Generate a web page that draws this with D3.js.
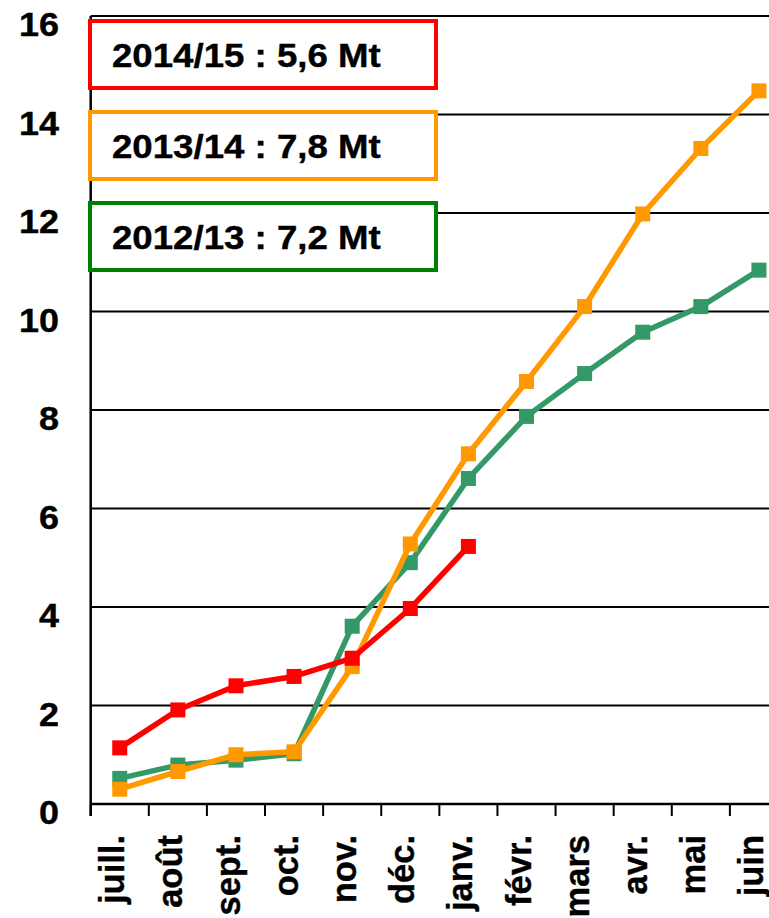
<!DOCTYPE html>
<html><head><meta charset="utf-8">
<script src="https://cdn.jsdelivr.net/npm/d3@7"></script>
<style>
html,body{margin:0;padding:0;background:#fff;overflow:hidden;}
text{font-family:"Liberation Sans",Arial,sans-serif;font-weight:bold;fill:#000;stroke:#000;stroke-width:0.4px;}
</style></head>
<body>
<script>
const months = ["juill.","août","sept.","oct.","nov.","déc.","janv.","févr.","mars","avr.","mai","juin"];
const s1415 = [1.14,1.91,2.40,2.59,2.96,3.97,5.23];
const s1314 = [0.30,0.66,1.00,1.06,2.79,5.28,7.11,8.58,10.10,11.98,13.31,14.48];
const s1213 = [0.52,0.79,0.89,1.02,3.61,4.90,6.61,7.87,8.74,9.58,10.10,10.84];
const yTicks = [0,2,4,6,8,10,12,14,16];
const legendLabels = ["2014/15 : 5,6 Mt","2013/14 : 7,8 Mt","2012/13 : 7,2 Mt"];
const legendColors = ["#ff0000","#ff9900","#008000"];

const W = 769, H = 918;
const svg = d3.select("body").append("svg").attr("width", W).attr("height", H);

const x = d3.scaleBand().domain(months).range([90.7, 788]);
const y = d3.scaleLinear().domain([0,16]).range([804,16]);
const cx = m => x(m) + x.bandwidth()/2;

// gridlines
svg.append("g").selectAll("line").data(yTicks.filter(d=>d>0)).join("line")
  .attr("x1", x.range()[0]).attr("x2", x.range()[1])
  .attr("y1", d=>y(d)).attr("y2", d=>y(d))
  .attr("stroke","#000").attr("stroke-width",2);

// y labels
svg.append("g").selectAll("text").data(yTicks).join("text")
  .attr("transform", d=>`translate(59,${y(d)+20}) scale(1.09,1)`)
  .attr("text-anchor","end").attr("font-size",33).text(d=>d);

// axes lines
svg.append("line").attr("x1",x.range()[0]).attr("x2",x.range()[0])
  .attr("y1",y(16)).attr("y2",y(0)+12).attr("stroke","#000").attr("stroke-width",2.5);
svg.append("line").attr("x1",x.range()[0]).attr("x2",x.range()[1])
  .attr("y1",y(0)).attr("y2",y(0)).attr("stroke","#000").attr("stroke-width",2.5);
// x ticks
const tickPos = months.map(m=>x(m)).concat([x.range()[1]]);
svg.append("g").selectAll("line").data(tickPos).join("line")
  .attr("x1",d=>d).attr("x2",d=>d).attr("y1",y(0)).attr("y2",y(0)+12)
  .attr("stroke","#000").attr("stroke-width",2);
// x labels
svg.append("g").selectAll("text").data(months).join("text")
  .attr("transform", m=>`translate(${cx(m)+4},835) rotate(-90)`)
  .attr("text-anchor","end").attr("font-size",34.5).text(m=>m);

// series
const series = [
  {vals:s1213, color:"#339966"},
  {vals:s1314, color:"#ff9900"},
  {vals:s1415, color:"#ff0000"}
];
const line = d3.line().x((d,i)=>cx(months[i])).y(d=>y(d));
series.forEach(s=>{
  const g = svg.append("g");
  g.append("path").attr("d", line(s.vals)).attr("fill","none")
    .attr("stroke", s.color).attr("stroke-width",5.5).attr("stroke-linejoin","round");
  const sz = 15;
  g.selectAll("rect").data(s.vals).join("rect")
    .attr("x",(d,i)=>cx(months[i])-sz/2).attr("y",d=>y(d)-sz/2)
    .attr("width",sz).attr("height",sz).attr("fill",s.color);
});

// legend boxes
legendLabels.forEach((lab,i)=>{
  const top = 21 + i*91;
  svg.append("rect").attr("x",90).attr("y",top).attr("width",346).attr("height",67)
    .attr("fill","#fff").attr("stroke",legendColors[i]).attr("stroke-width",4);
  svg.append("text").attr("transform",`translate(112,${top+46}) scale(1.11,1)`)
    .attr("font-size",33).text(lab);
});
</script>
</body></html>
